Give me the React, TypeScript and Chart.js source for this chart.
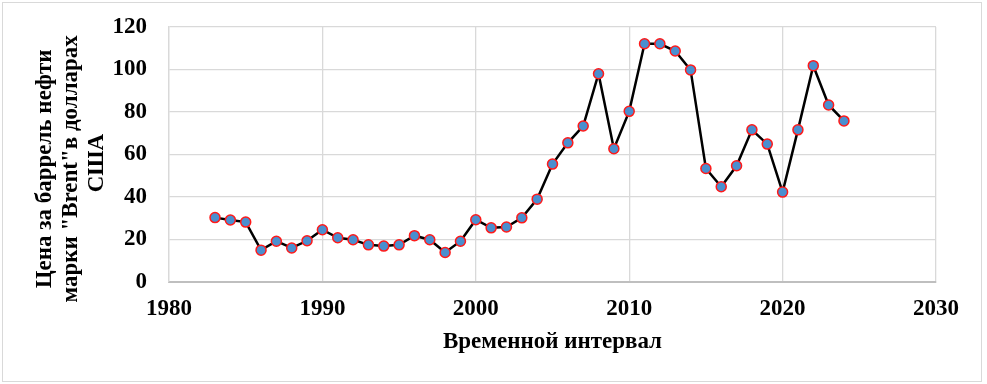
import React, { useEffect, useRef } from "react";
import { Chart, registerables } from "chart.js";

Chart.register(...registerables);

const years: number[] = [
  1983, 1984, 1985, 1986, 1987, 1988, 1989, 1990, 1991, 1992, 1993, 1994, 1995, 1996,
  1997, 1998, 1999, 2000, 2001, 2002, 2003, 2004, 2005, 2006, 2007, 2008, 2009, 2010,
  2011, 2012, 2013, 2014, 2015, 2016, 2017, 2018, 2019, 2020, 2021, 2022, 2023, 2024,
];
const prices: number[] = [
  30.3, 29.2, 28.2, 15.0, 19.2, 16.0, 19.4, 24.6, 20.8, 19.9, 17.5, 16.9, 17.5, 21.8,
  19.9, 13.9, 19.2, 29.3, 25.5, 25.9, 30.2, 39.0, 55.5, 65.5, 73.4, 98.0, 62.7, 80.3,
  112.1, 112.1, 108.7, 99.8, 53.4, 44.8, 54.7, 71.6, 64.9, 42.3, 71.6, 101.8, 83.3, 75.8,
];
const xRange = { min: 1980, max: 2030, step: 10 };
const yRange = { min: 0, max: 120, step: 20 };
const yTitle: string[] = ["Цена за баррель нефти", "марки \"Brent\"в долларах", "США"];
const xTitle = "Временной интервал";

export default function App() {
  const ref = useRef<HTMLCanvasElement | null>(null);
  useEffect(() => {
    if (!ref.current) return;
    const font = "'Liberation Serif', 'Times New Roman', serif";
    // trailing spaces nudge each centred rotated line slightly downward, as in the reference
    const yTitleLines = [yTitle[0] + "     ", yTitle[1] + "     ", yTitle[2] + "   "];
    const chart = new Chart(ref.current, {
      type: "line",
      data: {
        datasets: [
          {
            data: years.map((y, i) => ({ x: y, y: prices[i] })),
            borderColor: "#000000",
            borderWidth: 2.5,
            tension: 0,
            pointRadius: 5,
            pointBorderWidth: 1.5,
            pointBackgroundColor: "#4a8fcf",
            pointBorderColor: "#ff1a1a",
          },
        ],
      },
      options: {
        responsive: false,
        animation: false,
        layout: { padding: { left: 0, right: 51, top: 27, bottom: 0 } },
        plugins: { legend: { display: false }, tooltip: { enabled: false } },
        scales: {
          x: {
            type: "linear",
            min: xRange.min,
            max: xRange.max,
            ticks: {
              stepSize: xRange.step,
              padding: 13,
              color: "#000",
              font: { family: font, size: 23, weight: "bold" },
              callback: (v: any) => String(v),
            },
            grid: { color: "#d9d9d9", lineWidth: 1.3, drawTicks: false },
            border: { color: "#bfbfbf", width: 2 },
            title: {
              display: true,
              text: xTitle,
              color: "#000",
              font: { family: font, size: 23, weight: "bold", lineHeight: 1.2 },
              padding: { top: 0, bottom: 28 },
            },
            afterFit: (s: any) => {
              s.height = 102;
            },
          },
          y: {
            min: yRange.min,
            max: yRange.max,
            ticks: {
              stepSize: yRange.step,
              padding: 2,
              color: "#000",
              font: { family: font, size: 23, weight: "bold" },
            },
            grid: {
              color: "#d9d9d9",
              lineWidth: 1.3,
              drawTicks: true,
              tickLength: 20,
              tickColor: "rgba(0,0,0,0)",
            },
            border: { color: "#d9d9d9", width: 1.3 },
            title: {
              display: true,
              text: yTitleLines,
              color: "#000",
              font: { family: font, size: 23, weight: "bold", lineHeight: 1.13 },
              padding: { top: 32, bottom: 0 },
            },
            afterFit: (s: any) => {
              s.width = 169;
            },
          },
        },
      },
    });
    return () => chart.destroy();
  }, []);
  return (
    <div style={{ position: "fixed", left: 0, top: 0, width: 987, height: 384, background: "#fff" }}>
      <div
        style={{
          position: "absolute",
          left: 2,
          top: 2,
          width: 980,
          height: 380,
          border: "1px solid #d9d9d9",
          boxSizing: "border-box",
        }}
      />
      <canvas ref={ref} width={987} height={384} style={{ position: "absolute", left: 0, top: 0 }} />
    </div>
  );
}
